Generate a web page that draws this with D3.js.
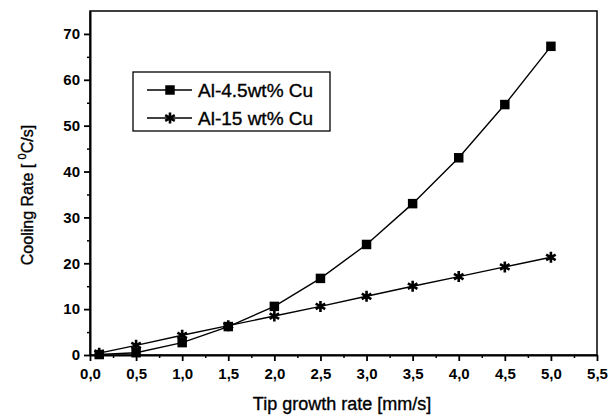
<!DOCTYPE html>
<html>
<head>
<meta charset="utf-8">
<script src="https://cdn.jsdelivr.net/npm/d3@7"></script>
<style>
  body { margin: 0; background: #fff; }
  text { font-family: "Liberation Sans", Arial, sans-serif; fill: #000; }
</style>
</head>
<body>
<div id="chart"></div>
<script>
// data
const growthRate = [0.1, 0.5, 1.0, 1.5, 2.0, 2.5, 3.0, 3.5, 4.0, 4.5, 5.0];
const cu45 = [0.1, 0.5, 2.7, 6.2, 10.6, 16.7, 24.1, 33.0, 43.0, 54.6, 67.3];
const cu15 = [0.4, 2.1, 4.3, 6.4, 8.5, 10.6, 12.8, 15.0, 17.1, 19.2, 21.3];
const seriesNames = ["Al-4.5wt% Cu", "Al-15 wt% Cu"];
const xTicks = [0, 0.5, 1, 1.5, 2, 2.5, 3, 3.5, 4, 4.5, 5, 5.5];
const yTicks = [0, 10, 20, 30, 40, 50, 60, 70];

// set the dimensions and margins of the graph
const margin = {top: 11, right: 18, bottom: 63, left: 90},
    width = 615 - margin.left - margin.right,
    height = 418 - margin.top - margin.bottom;

const svg = d3.select("#chart")
  .append("svg")
    .attr("width", width + margin.left + margin.right)
    .attr("height", height + margin.top + margin.bottom)
  .append("g")
    .attr("transform", `translate(${margin.left},${margin.top})`);

const x = d3.scaleLinear().domain([0, 5.5]).range([0, width]);
const y = d3.scaleLinear().domain([0, 75]).range([height, 0]);
const fmt = d => d3.format(".1f")(d).replace(".", ",");

// frame (top + right)
svg.append("rect")
  .attr("x", 0).attr("y", 0)
  .attr("width", width).attr("height", height)
  .attr("fill", "none").attr("stroke", "#000").attr("stroke-width", 1.5);

// minor ticks
svg.append("g")
  .attr("transform", `translate(0, ${height})`)
  .call(d3.axisBottom(x).tickValues(d3.range(0.25, 5.5, 0.5)).tickSize(3).tickFormat(""))
  .call(g => g.select(".domain").remove())
  .selectAll("line").attr("stroke-width", 1.5);
svg.append("g")
  .call(d3.axisLeft(y).tickValues(d3.range(5, 75, 10)).tickSize(3).tickFormat(""))
  .call(g => g.select(".domain").remove())
  .selectAll("line").attr("stroke-width", 1.5);

// X axis
const xAxis = svg.append("g")
  .attr("transform", `translate(0, ${height})`)
  .call(d3.axisBottom(x).tickValues(xTicks).tickSize(6).tickPadding(7).tickFormat(fmt).tickSizeOuter(0))
  .attr("font-size", 15).attr("font-weight", "bold").attr("font-family", null);
xAxis.select(".domain").attr("stroke-width", 2);
xAxis.selectAll("line").attr("stroke-width", 1.8);

// Y axis
const yAxis = svg.append("g")
  .call(d3.axisLeft(y).tickValues(yTicks).tickSize(6).tickPadding(4).tickSizeOuter(0))
  .attr("font-size", 15).attr("font-weight", "bold").attr("font-family", null);
yAxis.select(".domain").attr("stroke-width", 2);
yAxis.selectAll("line").attr("stroke-width", 1.8);

// axis titles
svg.append("text")
  .attr("x", 252)
  .attr("y", height + 55)
  .attr("text-anchor", "middle")
  .attr("font-size", 18)
  .attr("stroke", "#000").attr("stroke-width", 0.35)
  .text("Tip growth rate [mm/s]");

const yTitle = svg.append("text")
  .attr("transform", "translate(-57, 184) rotate(-90)")
  .attr("text-anchor", "middle")
  .attr("font-size", 16)
  .attr("stroke", "#000").attr("stroke-width", 0.35);
yTitle.append("tspan").text("Cooling Rate [ ");
yTitle.append("tspan").attr("dy", -7).attr("font-size", 11).text("0");
yTitle.append("tspan").attr("dy", 7).text("C/s]");

// lines
const series = [cu45, cu15];
const line = d3.line().x((d, i) => x(growthRate[i])).y(d => y(d));
series.forEach(vals => {
  svg.append("path")
    .datum(vals)
    .attr("fill", "none")
    .attr("stroke", "#000")
    .attr("stroke-width", 1.4)
    .attr("d", line);
});

// markers
const square = d3.symbol(d3.symbolSquare, 90);
const star = d3.symbol(d3.symbolAsterisk, 85);
svg.selectAll(".sq")
  .data(cu45)
  .join("path")
    .attr("transform", (d, i) => `translate(${x(growthRate[i])},${y(d)})`)
    .attr("d", square)
    .attr("fill", "#000");
svg.selectAll(".st")
  .data(cu15)
  .join("path")
    .attr("transform", (d, i) => `translate(${x(growthRate[i])},${y(d)})`)
    .attr("d", star)
    .attr("fill", "none")
    .attr("stroke", "#000")
    .attr("stroke-width", 2.6);

// legend
const lg = svg.append("g").attr("transform", "translate(43, 61)");
lg.append("rect")
  .attr("width", 197).attr("height", 59)
  .attr("fill", "#fff").attr("stroke", "#000").attr("stroke-width", 1.3);
seriesNames.forEach((name, i) => {
  const row = lg.append("g").attr("transform", `translate(0, ${18 + i * 28})`);
  row.append("line").attr("x1", 14).attr("x2", 59).attr("stroke", "#000").attr("stroke-width", 1.3);
  row.append("path")
    .attr("transform", "translate(37,0)")
    .attr("d", i === 0 ? square : star)
    .attr("fill", i === 0 ? "#000" : "none")
    .attr("stroke", i === 0 ? null : "#000")
    .attr("stroke-width", i === 0 ? null : 2.6);
  row.append("text")
    .attr("x", 65).attr("y", 7)
    .attr("font-size", 19)
    .attr("stroke", "#000").attr("stroke-width", 0.35)
    .text(name);
});
</script>
</body>
</html>
